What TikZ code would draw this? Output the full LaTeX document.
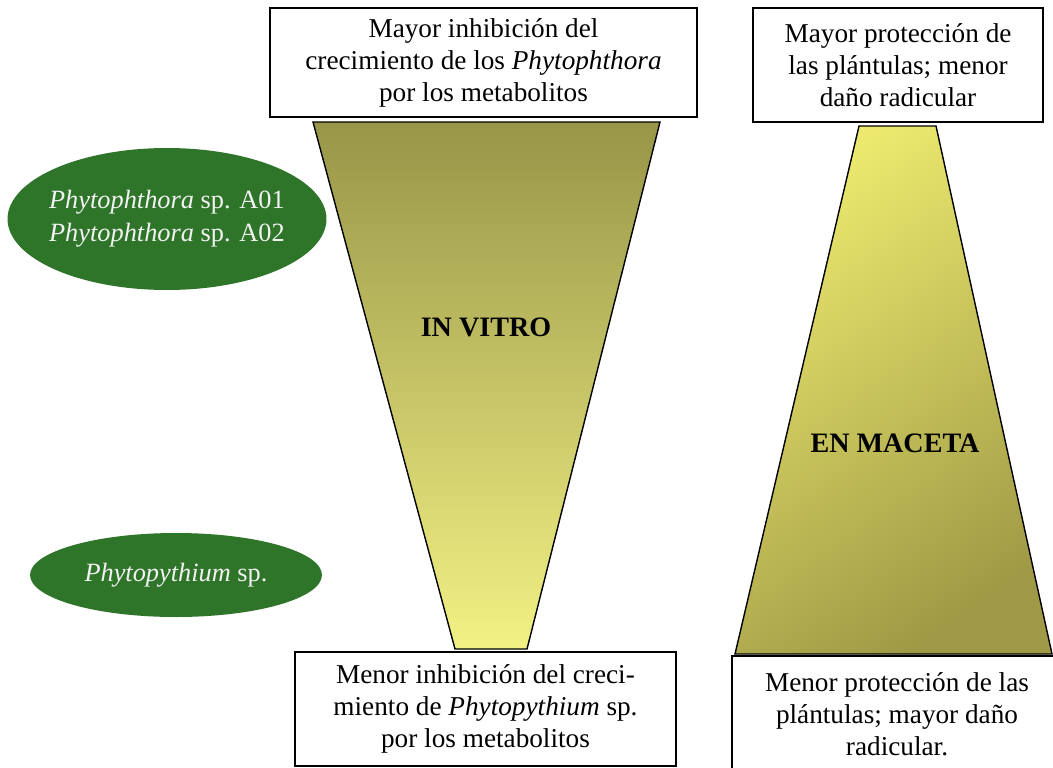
\documentclass[tikz,border=0pt]{standalone}
\usepackage{fontspec}
\setmainfont{Liberation Serif}
\usetikzlibrary{shapes.geometric}
\definecolor{leafgreen}{RGB}{46,116,41}
\definecolor{olivedark}{RGB}{152,150,72}
\definecolor{paleyellow}{RGB}{242,241,132}
\definecolor{macetalight}{RGB}{236,233,110}
\definecolor{macetadark}{RGB}{160,154,70}
\begin{document}
\begin{tikzpicture}[x=0.02cm, y=-0.02cm,
			resultbox/.style={draw, line width=1.1pt, fill=white, align=center, inner sep=0pt, font=\fontsize{15.5}{18.2}\selectfont},
			species/.style={ellipse, fill=leafgreen, text=white!95!black, align=center, inner sep=-0.5cm, font=\fontsize{15}{19}\selectfont},
			stage/.style={font=\fontsize{16}{19}\selectfont\bfseries},
			funnel/.style={draw=black, line width=0.8pt}
			]
			\useasboundingbox (0,0) rectangle (1053,767);
			
			% the two assays
			\shade[funnel, top color=olivedark, bottom color=paleyellow] (313,122) -- (660,122) -- (527,649) -- (455,649) -- cycle;
			\shade[funnel, top color=macetalight, bottom color=macetadark, shading angle=35] (859,126) -- (936,126) -- (1052,654) -- (735,654) -- cycle;
			\node[stage] (vitro) at (486,327) {IN VITRO};
			\node[stage] (maceta) at (895,443) {EN MACETA};
			
			\node[resultbox, minimum width=8.54cm, minimum height=2.18cm] (inhibmax) at (483.5,62.5) {Mayor inhibición del\\crecimiento de los \textit{Phytophthora}\\por los metabolitos};
			\node[resultbox, minimum width=7.62cm, minimum height=2.28cm] (inhibmin) at (485.5,709) {Menor inhibición del creci-\\miento de \textit{Phytopythium} sp.\\por los metabolitos};
			\node[resultbox, minimum width=5.8cm, minimum height=2.28cm] (protmax) at (898,65) {Mayor protección de\\las plántulas; menor\\daño radicular};
			\node[resultbox, minimum width=6.6cm, minimum height=2.32cm] (protmin) at (897,714) {Menor protección de las\\plántulas; mayor daño\\radicular.};
			
			\node[species, minimum width=6.38cm, minimum height=2.84cm] (phyto) at (167,219) {\textit{Phytophthora} sp. A01\\\textit{Phytophthora} sp. A02};
			\node[species, minimum width=5.84cm, minimum height=1.68cm] (pythium) at (176,575) {\textit{Phytopythium} sp.};
	\end{tikzpicture}
\end{document}
